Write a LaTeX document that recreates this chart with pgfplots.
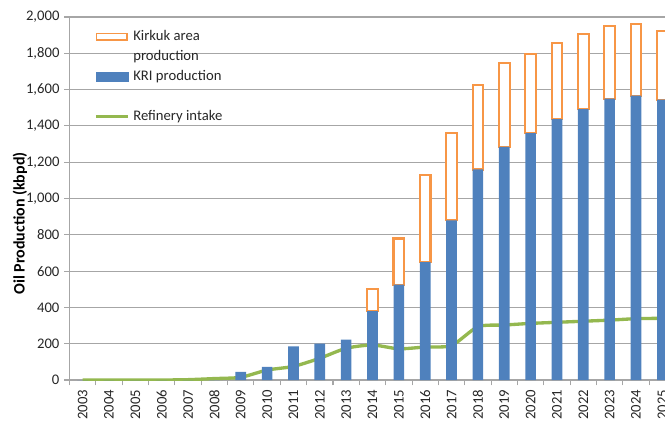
\documentclass[border=0pt]{standalone}
\usepackage{fontspec}
\setmainfont{Carlito}
\usepackage{pgfplots}
\pgfplotsset{compat=1.18}
\usepackage{pgfplotstable}

\definecolor{kriblue}{HTML}{4F81BD}
\definecolor{kirkorange}{HTML}{F79646}
\definecolor{refgreen}{HTML}{94B84F}
\definecolor{gridgray}{HTML}{A6A6A6}

% KRI production before Kirkuk area was added (plain bars)
\pgfplotstableread{
idx year kri
0  2003 0
1  2004 0
2  2005 0
3  2006 0
4  2007 0
5  2008 0
6  2009 45
7  2010 72
8  2011 185
9  2012 200
10 2013 222
}\prodearly

% KRI production with Kirkuk area production stacked on top
\pgfplotstableread{
idx year kri kirkuk
11 2014 380  120
12 2015 525  255
13 2016 650  478
14 2017 880  480
15 2018 1160 467
16 2019 1285 460
17 2020 1360 435
18 2021 1437 422
19 2022 1492 412
20 2023 1550 402
21 2024 1567 395
22 2025 1545 380
}\prodlate

\pgfplotstableread{
idx year refinery
0  2003 0
1  2004 0
2  2005 0
3  2006 0
4  2007 2
5  2008 8
6  2009 15
7  2010 55
8  2011 75
9  2012 120
10 2013 175
11 2014 193
12 2015 172
13 2016 182
14 2017 190
15 2018 294
16 2019 303
17 2020 312
18 2021 318
19 2022 324
20 2023 330
21 2024 338
22 2025 340
}\refinery

\begin{document}
\begin{tikzpicture}
\begin{axis}[
  name=ax,
  scale only axis,
  width=446.6pt, height=272.25pt,
  xmin=-0.5, xmax=22.1,
  ymin=0, ymax=2000,
  ybar stacked,
  bar width=8pt,
  axis lines*=left,
  axis line style={draw=gridgray, line width=0.8pt, -},
  tick align=outside,
  tick pos=left,
  tick style={draw=gridgray, line width=0.8pt},
  major tick length=4pt,
  minor tick length=4pt,
  ytick={0,200,...,2000},
  xtick={0,...,22},
  xticklabels from table={\refinery}{year},
  minor xtick={-0.5,0.5,...,21.5},
  major x tick style={draw=none},
  ymajorgrids,
  grid style={gridgray, line width=0.8pt},
  tick label style={font=\fontsize{11}{13}\selectfont, text=black!85},
  x tick label style={rotate=90, anchor=east},
  /pgf/number format/1000 sep={,},
  /pgf/number format/assume math mode=true,
  every axis y label/.style={at={(axis description cs:-0.083,0.431)}, rotate=90, anchor=center, font=\fontsize{12}{14}\selectfont\bfseries},
  ylabel={Oil Production (kbpd)},
  legend cell align=left,
  legend style={at={(axis description cs:0,1)}, anchor=north west,
    xshift=18.5pt, yshift=-8.25pt, draw=none, fill=none, inner sep=0pt,
    row sep=2pt, column sep=2pt,
    nodes={inner sep=1pt, text height=8pt, text depth=3pt, font=\fontsize{11}{13}\selectfont, text=black!85}},
]
\addplot[forget plot, fill=kriblue, draw=none] table[x=idx, y=kri] {\prodlate};
\addplot[forget plot, fill=white, draw=kirkorange, line width=1.6pt] table[x=idx, y=kirkuk] {\prodlate};
\addplot[forget plot, stack plots=false, fill=kriblue, draw=none] table[x=idx, y=kri] {\prodearly};
\addplot[forget plot, stack plots=false, smooth, tension=0.4, refgreen, line width=2.5pt, mark=none] table[x=idx, y=refinery] {\refinery};

\addlegendimage{legend image code/.code={\draw[fill=white, draw=kirkorange, line width=1.4pt] (0pt,-2.6pt) rectangle (23pt,2.6pt);}}
\addlegendentry{Kirkuk area}
\addlegendimage{empty legend}
\addlegendentry{production}
\addlegendimage{legend image code/.code={\fill[kriblue] (-0.5pt,-3.3pt) rectangle (23.5pt,3.3pt);}}
\addlegendentry{KRI production}
\addlegendimage{empty legend}
\addlegendentry{}
\addlegendimage{legend image code/.code={\draw[refgreen, line width=2.2pt] (-0.5pt,0pt) -- (23.5pt,0pt);}}
\addlegendentry{Refinery intake}
\end{axis}
\pgfresetboundingbox
\useasboundingbox ([xshift=-52.1pt, yshift=-32.25pt]ax.south west) rectangle ([yshift=12.75pt]ax.north east);
\end{tikzpicture}
\end{document}
